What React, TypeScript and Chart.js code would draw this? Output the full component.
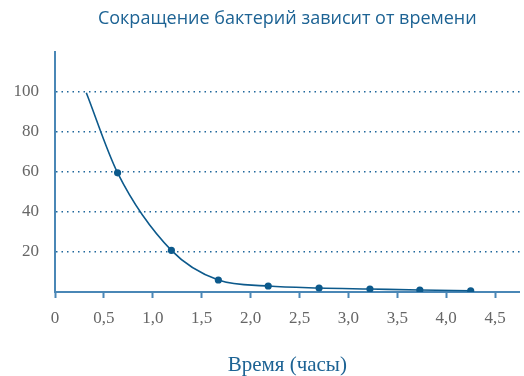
import React, { useEffect, useRef } from "react";
import { Chart, registerables } from "chart.js";

Chart.register(...registerables);

const titleText = "Сокращение бактерий зависит от времени";
const xAxisTitle = "Время (часы)";
const timeHours = [0.32, 0.64, 1.19, 1.67, 2.18, 2.7, 3.22, 3.73, 4.25];
const bacteria = [99.5, 59.5, 20.8, 6, 3, 2, 1.5, 1, 0.6];
const markerShown = [false, true, true, true, true, true, true, true, true];
const yGridValues = [20, 40, 60, 80, 100];

const AXIS = "#4a87b6";
const LINE = "#0d5a8c";
const GRID = "#1f679b";
const TICK = "#666666";

export default function App() {
  const ref = useRef<HTMLCanvasElement | null>(null);
  useEffect(() => {
    if (!ref.current) return;
    const chart = new Chart(ref.current, {
      type: "line",
      data: {
        datasets: [
          {
            data: timeHours.map((x, i) => ({ x, y: bacteria[i] })),
            borderColor: LINE,
            backgroundColor: LINE,
            borderWidth: 1.6,
            pointRadius: markerShown.map((m) => (m ? 2.8 : 0)),
            pointHoverRadius: 0,
            cubicInterpolationMode: "monotone",
            fill: false,
          },
        ],
      },
      options: {
        animation: false,
        responsive: false,
        events: [],
        layout: { padding: { left: 0, right: 0, top: 0, bottom: 0 } },
        plugins: {
          legend: { display: false },
          tooltip: { enabled: false },
          title: {
            display: true,
            text: titleText,
            fullSize: false,
            color: "#1d6394",
            font: { family: "'Open Sans'", size: 18, weight: "normal" },
            padding: { top: 8, bottom: 22 },
          },
        },
        scales: {
          x: {
            type: "linear",
            min: 0,
            max: 4.75,
            border: { display: true, color: AXIS, width: 2 },
            grid: {
              drawOnChartArea: false,
              drawTicks: true,
              tickLength: 6,
              tickColor: AXIS,
              tickWidth: 2,
            },
            ticks: {
              stepSize: 0.5,
              includeBounds: false,
              color: TICK,
              padding: 10,
              font: { family: "'Liberation Serif'", size: 17 },
              callback: (v: any) => (v === 0 ? "0" : Number(v).toFixed(1).replace(".", ",")),
            },
            title: {
              display: true,
              text: xAxisTitle,
              color: "#1d6394",
              font: { family: "'Liberation Serif'", size: 21, lineHeight: 1 },
              padding: { top: 0, bottom: 0 },
            },
            afterFit: (s: any) => {
              s.height = 84;
            },
          },
          y: {
            type: "linear",
            min: 0,
            max: 120,
            border: { display: true, color: AXIS, width: 2, dash: [1.5, 4] },
            grid: {
              drawTicks: false,
              color: (ctx: any) =>
                ctx.tick && yGridValues.includes(ctx.tick.value) ? GRID : "rgba(0,0,0,0)",
              lineWidth: 1.5,
            },
            ticks: {
              stepSize: 20,
              color: TICK,
              padding: 16,
              font: { family: "'Liberation Serif'", size: 17 },
              callback: (v: any) => (yGridValues.includes(v) ? String(v) : ""),
            },
            afterFit: (s: any) => {
              s.width = 55;
            },
          },
        },
      } as any,
    });
    return () => chart.destroy();
  }, []);
  return (
    <div style={{ position: "fixed", left: 0, top: 0, width: 524, height: 376, background: "#fff" }}>
      <canvas ref={ref} width={524} height={376} style={{ width: 524, height: 376 }} />
    </div>
  );
}
